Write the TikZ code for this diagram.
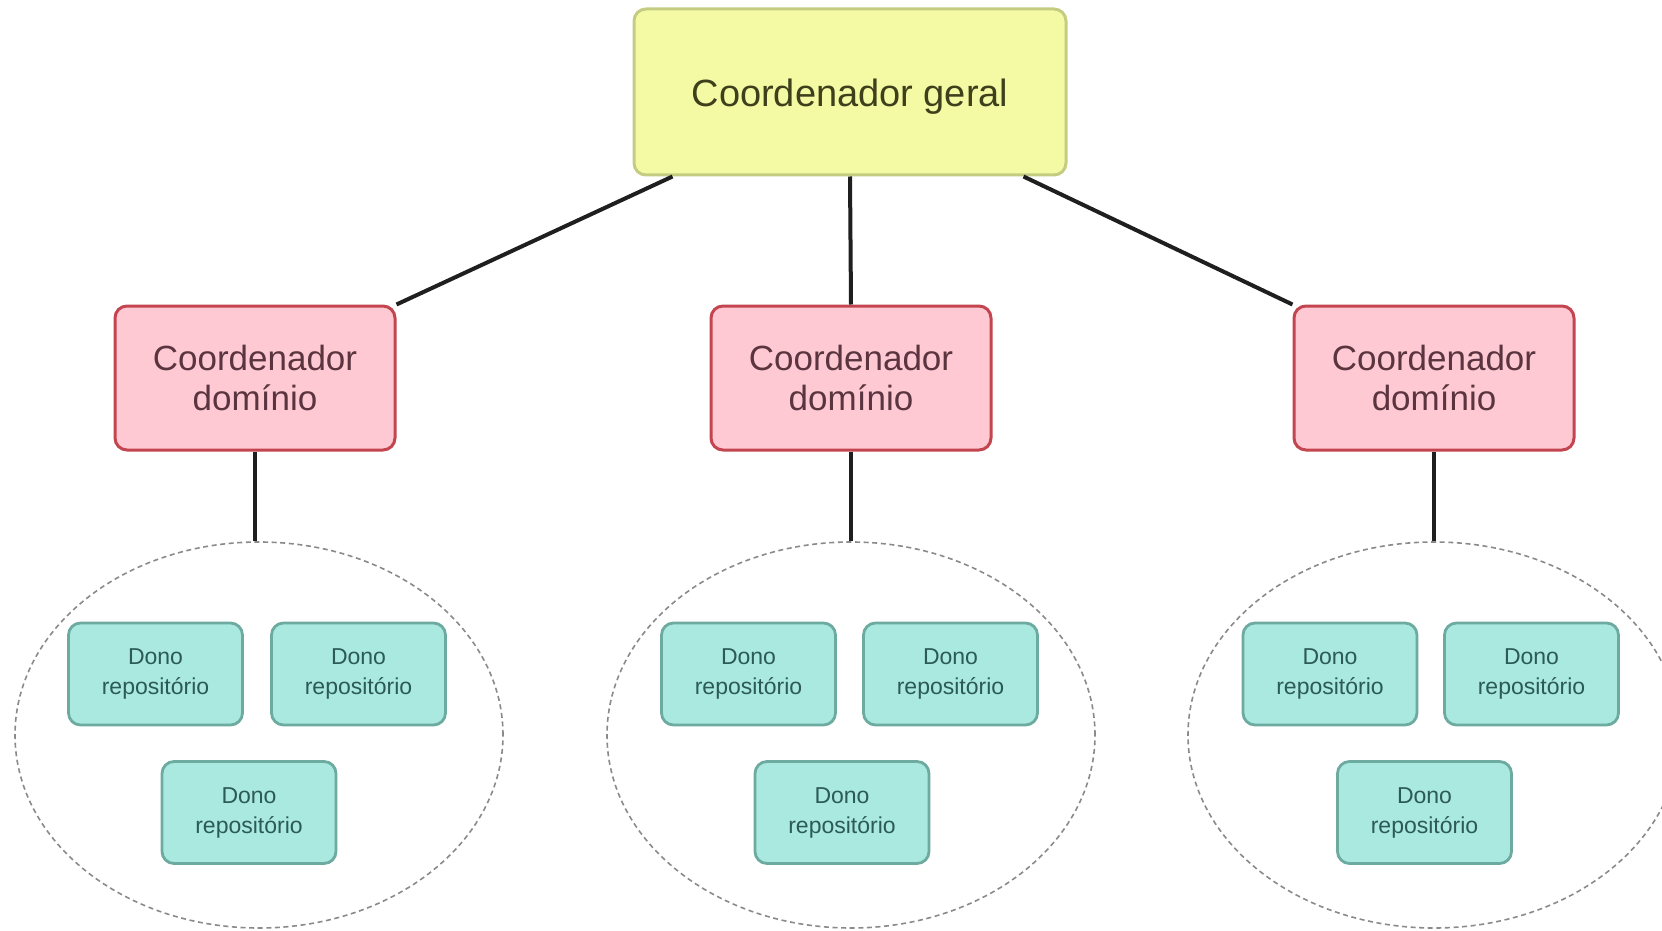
\documentclass[tikz,border=0pt]{standalone}
\usepackage{fontspec}
\setmainfont{Liberation Sans}
\usetikzlibrary{shapes.geometric}
\definecolor{yfill}{HTML}{F4FAA4}
\definecolor{ydraw}{HTML}{C4CC82}
\definecolor{ytext}{HTML}{3E401C}
\definecolor{pfill}{HTML}{FFC9D3}
\definecolor{pdraw}{HTML}{C2454F}
\definecolor{ptext}{HTML}{5A3540}
\definecolor{tfill}{HTML}{A9E9E0}
\definecolor{tdraw}{HTML}{6DAA9F}
\definecolor{ttext}{HTML}{2C5A54}
\definecolor{lgray}{HTML}{8A8A8A}
\tikzset{
  geral/.style={draw=ydraw, fill=yfill, line width=1.5pt, rounded corners=6pt,
    minimum width=216pt, minimum height=83pt, inner sep=0pt,
    text=ytext, font=\fontsize{19}{23}\selectfont},
  dominio/.style={draw=pdraw, fill=pfill, line width=1.5pt, rounded corners=6pt,
    minimum width=140pt, minimum height=72pt, inner sep=0pt, align=center,
    text=ptext, font=\fontsize{17.5}{19.6}\selectfont},
  dono/.style={draw=tdraw, fill=tfill, line width=1.4pt, rounded corners=6pt,
    minimum width=87pt, minimum height=51pt, inner sep=0pt, align=center,
    text=ttext, font=\fontsize{11.5}{15}\selectfont},
  grupo/.style={ellipse, draw=lgray, dashed, dash pattern=on 2.5pt off 1.8pt,
    line width=0.8pt, minimum width=244pt, minimum height=193pt, inner sep=0pt},
  linha/.style={draw=black!88, line width=2pt}
}
\begin{document}
\begin{tikzpicture}[x=0.5pt,y=-0.5pt]
\useasboundingbox (0,0) rectangle (1662,931);
\clip (0,0) rectangle (1662,931);
% groups
\node[grupo] (e1) at (259,735) {};
\node[grupo] (e2) at (851,735) {};
\node[grupo, minimum width=246pt] (e3) at (1434,735) {};
% top
\node[geral] (top) at (850,92) {\raisebox{-7.5pt}[0pt][0pt]{Coordenador geral}};
% domain coordinators
\node[dominio] (p1) at (255,378) {Coordenador\\domínio};
\node[dominio] (p2) at (851,378) {Coordenador\\domínio};
\node[dominio] (p3) at (1434,378) {Coordenador\\domínio};
% connectors
\draw[linha] ([xshift=20pt]top.south west) -- (p1.north east);
\draw[linha] (top.south) -- (p2.north);
\draw[linha] ([xshift=-22pt]top.south east) -- (p3.north west);
\draw[linha] (p1.south) -- (p1.south |- e1.north);
\draw[linha] (p2.south) -- (e2.north);
\draw[linha] (p3.south) -- (e3.north);
% repository owners
\node[dono] (d11) at (155.5,674) {Dono\\repositório};
\node[dono] (d12) at (358.5,674) {Dono\\repositório};
\node[dono] (d13) at (249,812.5) {Dono\\repositório};
\node[dono] (d21) at (748.5,674) {Dono\\repositório};
\node[dono] (d22) at (950.5,674) {Dono\\repositório};
\node[dono] (d23) at (842,812.5) {Dono\\repositório};
\node[dono] (d31) at (1330,674) {Dono\\repositório};
\node[dono] (d32) at (1531.5,674) {Dono\\repositório};
\node[dono] (d33) at (1424.5,812.5) {Dono\\repositório};
\end{tikzpicture}
\end{document}
